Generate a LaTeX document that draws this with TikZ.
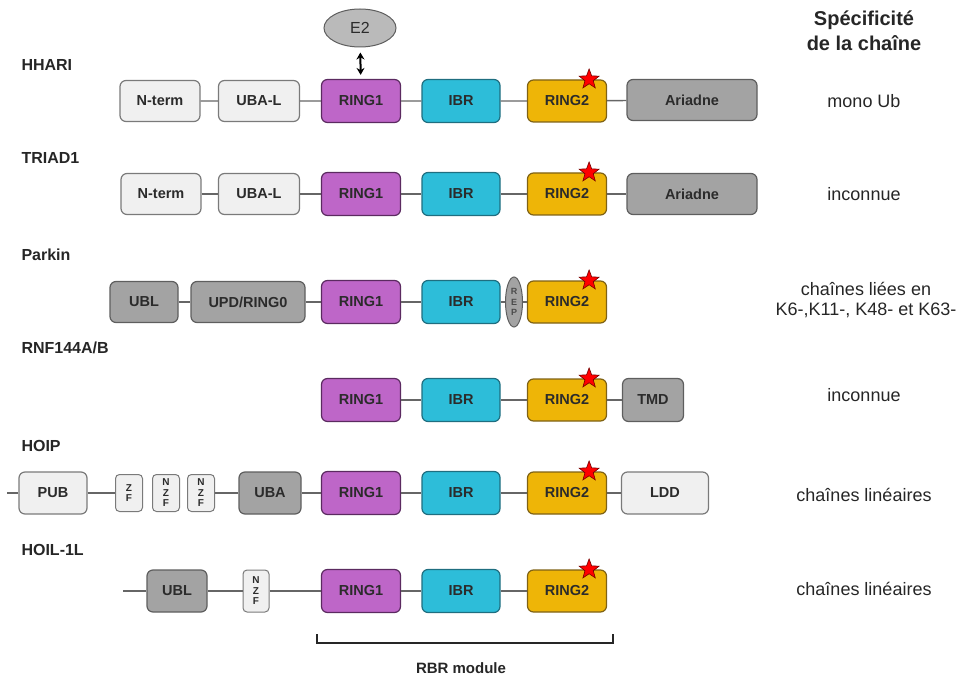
\documentclass[tikz,border=0pt]{standalone}
\usepackage{fontspec}
\setmainfont{Liberation Sans}
\usetikzlibrary{shapes.geometric,arrows.meta}

\definecolor{rOneFill}{HTML}{BE66C8}
\definecolor{rOneLine}{HTML}{5B2A60}
\definecolor{ibrFill}{HTML}{2DBDD9}
\definecolor{ibrLine}{HTML}{1F6E80}
\definecolor{rTwoFill}{HTML}{EEB507}
\definecolor{rTwoLine}{HTML}{7F6215}
\definecolor{greyFill}{HTML}{A3A3A3}
\definecolor{greyLine}{HTML}{5E5E5E}
\definecolor{lightFill}{HTML}{F0F0F0}
\definecolor{lightLine}{HTML}{7A7A7A}
\definecolor{boxText}{HTML}{2B2B2B}

\begin{document}
\begin{tikzpicture}
        [x=1pt, y=-1pt,
        dom/.style={rounded corners=6pt, draw, line width=1.2pt, minimum height=41pt, inner sep=0pt, text=boxText, font=\bfseries\fontsize{14.5}{16}\selectfont},
        r1box/.style={dom, fill=rOneFill, draw=rOneLine, minimum width=79pt, minimum height=43pt},
        ibrbox/.style={dom, fill=ibrFill, draw=ibrLine, minimum width=78pt, minimum height=43pt},
        r2box/.style={dom, fill=rTwoFill, draw=rTwoLine, minimum width=79pt, minimum height=42pt},
        greybox/.style={dom, fill=greyFill, draw=greyLine},
        lightbox/.style={dom, fill=lightFill, draw=lightLine},
        zfbox/.style={dom, rounded corners=4pt, fill=lightFill, draw=lightLine, line width=1pt, minimum width=27pt, minimum height=37pt, align=center, font=\bfseries\fontsize{10}{10.5}\selectfont},
        repell/.style={ellipse, draw=greyLine, fill=greyFill, line width=1pt, minimum width=17pt, minimum height=50pt, inner sep=0pt, align=center, text=greyLine!80!black, font=\bfseries\fontsize{9}{10.5}\selectfont},
        catstar/.style={star, star points=5, star point ratio=2.4, fill=red, draw=red!45!black, line width=0.6pt, minimum size=21pt, inner sep=0pt},
        link/.style={draw=black!60, line width=1.4pt},
        protname/.style={anchor=west, font=\bfseries\fontsize{16}{18}\selectfont, text=black!85},
        spec/.style={align=center, font=\fontsize{18}{20}\selectfont, text=black!85}]

        \useasboundingbox (0,0) rectangle (963,676);

        % HHARI
        \node[protname] (hhName) at (18,65) {HHARI};
        \node[lightbox, minimum width=80pt] (hhNt) at (160,101) {N-term};
        \node[lightbox, minimum width=81pt] (hhUba) at (259,101) {UBA-L};
        \node[r1box] (hhR1) at (361,101) {RING1};
        \node[ibrbox] (hhIbr) at (461,101) {IBR};
        \node[r2box] (hhR2) at (567,101) {RING2};
        \node[greybox, minimum width=130pt] (hhAri) at (692,100) {Ariadne};
        \node[catstar] (hhStar) at ([xshift=-18pt]hhR2.north east) {};
        \node[ellipse, draw=greyLine, fill=greyFill!75, line width=1pt, minimum width=72pt, minimum height=38pt, text=boxText, font=\fontsize{16}{18}\selectfont] (hhE2) at (360,28) {E2};
        \draw[{Stealth[length=7pt,width=8pt]}-{Stealth[length=7pt,width=8pt]}, line width=2pt, shorten <=5pt, shorten >=4pt] (hhE2) -- (hhR1);
        \draw[link] (hhNt) -- (hhUba) -- (hhR1) -- (hhIbr) -- (hhR2) -- (hhAri);

        % TRIAD1
        \node[protname] (trName) at (18,158) {TRIAD1};
        \node[lightbox, minimum width=80pt] (trNt) at (161,194) {N-term};
        \node[lightbox, minimum width=81pt] (trUba) at (259,194) {UBA-L};
        \node[r1box] (trR1) at (361,194) {RING1};
        \node[ibrbox] (trIbr) at (461,194) {IBR};
        \node[r2box] (trR2) at (567,194) {RING2};
        \node[greybox, minimum width=130pt] (trAri) at (692,194) {Ariadne};
        \node[catstar] (trStar) at ([xshift=-18pt]trR2.north east) {};
        \draw[link] (trNt) -- (trUba) -- (trR1) -- (trIbr) -- (trR2) -- (trAri);

        % Parkin
        \node[protname] (pkName) at (18,255) {Parkin};
        \node[greybox, minimum width=68pt] (pkUbl) at (144,302) {UBL};
        \node[greybox, minimum width=114pt] (pkUpd) at (248,302) {UPD/RING0};
        \node[r1box] (pkR1) at (361,302) {RING1};
        \node[ibrbox] (pkIbr) at (461,302) {IBR};
        \node[repell] (pkRep) at (514,302) {R\\E\\P};
        \node[r2box] (pkR2) at (567,302) {RING2};
        \node[catstar] (pkStar) at ([xshift=-18pt]pkR2.north east) {};
        \draw[link] (pkUbl) -- (pkUpd) -- (pkR1) -- (pkIbr) -- (pkRep) -- (pkR2);

        % RNF144A/B
        \node[protname] (rnName) at (18,348) {RNF144A/B};
        \node[r1box] (rnR1) at (361,400) {RING1};
        \node[ibrbox] (rnIbr) at (461,400) {IBR};
        \node[r2box] (rnR2) at (567,400) {RING2};
        \node[greybox, minimum width=61pt, minimum height=43pt] (rnTmd) at (653,400) {TMD};
        \node[catstar] (rnStar) at ([xshift=-18pt]rnR2.north east) {};
        \draw[link] (rnR1) -- (rnIbr) -- (rnR2) -- (rnTmd);

        % HOIP
        \node[protname] (hpName) at (18,446) {HOIP};
        \coordinate (hpStart) at (7,493);
        \node[lightbox, minimum width=68pt, minimum height=42pt] (hpPub) at (53,493) {PUB};
        \node[zfbox] (hpZf) at (129,493) {Z\\F};
        \node[zfbox] (hpNzfA) at (166,493) {N\\Z\\F};
        \node[zfbox] (hpNzfB) at (201,493) {N\\Z\\F};
        \node[greybox, minimum width=62pt, minimum height=42pt] (hpUba) at (270,493) {UBA};
        \node[r1box] (hpR1) at (361,493) {RING1};
        \node[ibrbox] (hpIbr) at (461,493) {IBR};
        \node[r2box] (hpR2) at (567,493) {RING2};
        \node[lightbox, minimum width=87pt, minimum height=42pt] (hpLdd) at (665,493) {LDD};
        \node[catstar] (hpStar) at ([xshift=-18pt]hpR2.north east) {};
        \draw[link] (hpStart) -- (hpPub) -- (hpZf);
        \draw[link] (hpNzfB) -- (hpUba) -- (hpR1) -- (hpIbr) -- (hpR2) -- (hpLdd);

        % HOIL-1L
        \node[protname] (hlName) at (18,550) {HOIL-1L};
        \coordinate (hlStart) at (123,591);
        \node[greybox, minimum width=60pt, minimum height=42pt] (hlUbl) at (177,591) {UBL};
        \node[zfbox, minimum width=26pt, minimum height=42pt] (hlNzf) at (256,591) {N\\Z\\F};
        \node[r1box] (hlR1) at (361,591) {RING1};
        \node[ibrbox] (hlIbr) at (461,591) {IBR};
        \node[r2box] (hlR2) at (567,591) {RING2};
        \node[catstar] (hlStar) at ([xshift=-18pt]hlR2.north east) {};
        \draw[link] (hlStart) -- (hlUbl) -- (hlNzf) -- (hlR1) -- (hlIbr) -- (hlR2);

        % RBR module bracket
        \coordinate (brL) at (317,634);
        \coordinate (brR) at (613,634);
        \draw[line width=2pt, black!85] (brL) -- ++(0,9) -| (brR);
        \node[font=\bfseries\fontsize{15}{17}\selectfont, text=black!85] (rbr) at (461,668) {RBR module};

        % chain specificity
        \node[spec, font=\bfseries\fontsize{20}{25}\selectfont] (specHead) at (864,31) {Spécificité\\de la chaîne};
        \node[spec] (hhSpec) at (864,101) {mono Ub};
        \node[spec] (trSpec) at (864,194) {inconnue};
        \node[spec] (pkSpec) at (866,300) {chaînes liées en\\K6-,K11-, K48- et K63-};
        \node[spec] (rnSpec) at (864,395) {inconnue};
        \node[spec] (hpSpec) at (864,495) {chaînes linéaires};
        \node[spec] (hlSpec) at (864,589) {chaînes linéaires};

    \end{tikzpicture}
\end{document}
